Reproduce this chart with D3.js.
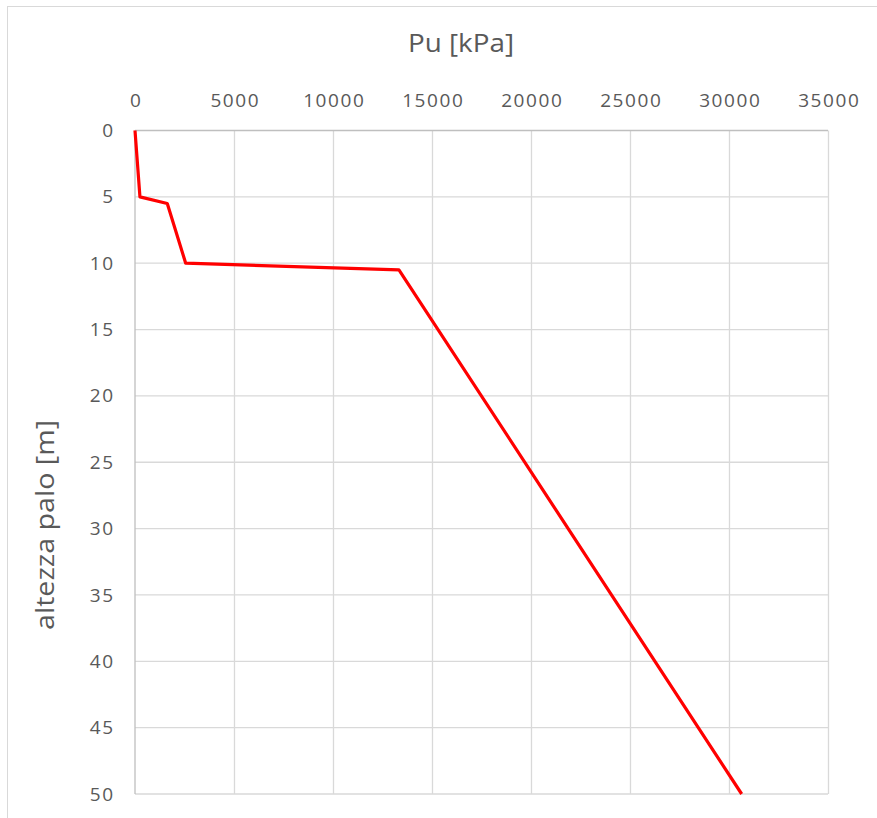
<!DOCTYPE html>
<html>
<head>
<meta charset="utf-8">
<script src="https://cdn.jsdelivr.net/npm/d3@7"></script>
<style>
  html, body { margin: 0; padding: 0; background: #fff; }
  svg { display: block; }
  text { font-family: "Open Sans", "Liberation Sans", sans-serif; fill: #595959; }
</style>
</head>
<body>
<svg id="chart" width="877" height="818"></svg>
<script>
// Data: Pu [kPa] vs altezza palo [m]
const puValues = [0, 250, 1630, 2560, 13330, 30640];
const depthValues = [0, 5, 5.5, 10, 10.5, 50];
const xTicks = [0, 5000, 10000, 15000, 20000, 25000, 30000, 35000];
const yTicks = [0, 5, 10, 15, 20, 25, 30, 35, 40, 45, 50];
const xTitle = "Pu [kPa]";
const yTitle = "altezza palo [m]";

const svg = d3.select("#chart");
const plot = { left: 135, right: 828, top: 130.5, bottom: 794 };

// outer chart border
svg.append("rect")
  .attr("x", 7.5).attr("y", 6.5)
  .attr("width", 1000).attr("height", 1000)
  .attr("fill", "#fff").attr("stroke", "#d9d9d9").attr("stroke-width", 1);

const x = d3.scaleLinear().domain([0, 35000]).range([plot.left, plot.right]);
const y = d3.scaleLinear().domain([0, 50]).range([plot.top, plot.bottom]);

// gridlines
const g = svg.append("g");
g.selectAll("line.vg").data(xTicks.slice(1)).join("line")
  .attr("x1", d => Math.round(x(d)) + 0.5).attr("x2", d => Math.round(x(d)) + 0.5)
  .attr("y1", plot.top).attr("y2", plot.bottom)
  .attr("stroke", "#d9d9d9").attr("stroke-width", 1.3);
g.selectAll("line.hg").data(yTicks.slice(1)).join("line")
  .attr("y1", d => y(d)).attr("y2", d => y(d))
  .attr("x1", plot.left).attr("x2", plot.right)
  .attr("stroke", "#d9d9d9").attr("stroke-width", 1.3);

// axes (top and left), using d3 axes for tick labels
const LS = 1.6;
const xAxis = d3.axisTop(x).tickValues(xTicks).tickFormat(d3.format("d")).tickSize(0).tickPadding(24);
const yAxis = d3.axisLeft(y).tickValues(yTicks).tickFormat(d3.format("d")).tickSize(0).tickPadding(22);

const gx = svg.append("g").attr("transform", `translate(0,${plot.top})`).call(xAxis);
const gy = svg.append("g").attr("transform", `translate(${plot.left},0)`).call(yAxis);
[gx, gy].forEach(ga => {
  ga.select(".domain").attr("stroke", "#bfbfbf").attr("stroke-width", 1.3);
  ga.selectAll("text").attr("font-size", 19).attr("fill", "#595959")
    .attr("font-family", "'Open Sans', sans-serif").style("letter-spacing", LS + "px");
});
gx.selectAll("text").attr("dx", LS / 2);
gy.selectAll("text").attr("dx", LS);
gx.select(".domain").attr("d", `M${plot.left},0H${plot.right}`);
gy.select(".domain").attr("d", `M0,${plot.top}V${plot.bottom}`);

// data line
const pts = puValues.map((v, i) => [v, depthValues[i]]);
svg.append("path")
  .datum(pts)
  .attr("fill", "none")
  .attr("stroke", "#ff0000")
  .attr("stroke-width", 3.2)
  .attr("stroke-linejoin", "round")
  .attr("d", d3.line().x(d => x(d[0])).y(d => y(d[1])));

// titles
svg.append("text")
  .attr("x", 461).attr("y", 52)
  .attr("text-anchor", "middle")
  .attr("font-size", 25)
  .attr("textLength", 106).attr("lengthAdjust", "spacingAndGlyphs")
  .text(xTitle);

svg.append("text")
  .attr("transform", "translate(54,525) rotate(-90)")
  .attr("text-anchor", "middle")
  .attr("font-size", 25)
  .attr("textLength", 210).attr("lengthAdjust", "spacingAndGlyphs")
  .text(yTitle);
</script>
</body>
</html>
